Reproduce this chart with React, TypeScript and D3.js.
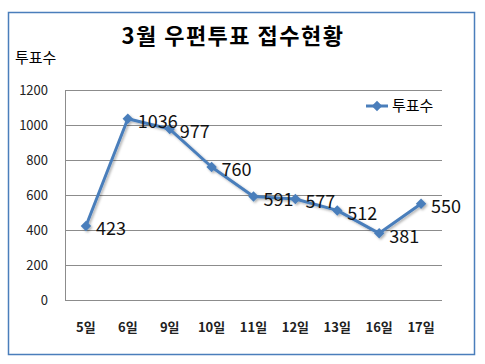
import React, { useEffect, useRef } from "react";
import * as d3 from "d3";

const days = ["5일", "6일", "9일", "10일", "11일", "12일", "13일", "16일", "17일"];
const votes = [423, 1036, 977, 760, 591, 577, 512, 381, 550];
const yTicks = [0, 200, 400, 600, 800, 1000, 1200];

const FONT = "'Noto Sans CJK KR', 'Noto Sans', sans-serif";
const BLUE = "#4A7EBB";

export default function App() {
  const ref = useRef<SVGSVGElement>(null);

  useEffect(() => {
    if (!ref.current) return;
    const svg = d3.select(ref.current);
    svg.selectAll("*").remove();

    const margin = { top: 90, right: 43, bottom: 64, left: 65 };
    const W = 485;
    const H = 364;
    const width = W - margin.left - margin.right;
    const height = H - margin.top - margin.bottom;

    // outer frame
    svg
      .append("rect")
      .attr("x", 8.5)
      .attr("y", 12.5)
      .attr("width", 466)
      .attr("height", 342)
      .attr("fill", "#fff")
      .attr("stroke", BLUE)
      .attr("stroke-width", 1.5);

    // title
    svg
      .append("text")
      .attr("x", 233)
      .attr("y", 44)
      .attr("text-anchor", "middle")
      .attr("font-family", FONT)
      .attr("font-weight", "bold")
      .attr("font-size", 22)
      .attr("letter-spacing", 1.5)
      .text("3월 우편투표 접수현황");

    // y axis title
    svg
      .append("text")
      .attr("x", 15)
      .attr("y", 63)
      .attr("font-family", FONT)
      .attr("font-size", 15)
      .text("투표수");

    const g = svg.append("g").attr("transform", `translate(${margin.left},${margin.top})`);

    const x = d3.scaleBand().domain(days).range([0, width]);
    const y = d3.scaleLinear().domain([0, 1200]).range([height, 0]);
    const cx = (d: string) => (x(d) as number) + x.bandwidth() / 2;

    // grid lines
    g.append("g")
      .selectAll("line")
      .data(yTicks)
      .enter()
      .append("line")
      .attr("x1", 0)
      .attr("x2", width)
      .attr("y1", (d) => Math.round(y(d)) + 0.5)
      .attr("y2", (d) => Math.round(y(d)) + 0.5)
      .attr("stroke", "#8c8c8c")
      .attr("stroke-width", 1);

    // left axis line
    g.append("line")
      .attr("x1", 0.5)
      .attr("x2", 0.5)
      .attr("y1", 0)
      .attr("y2", height)
      .attr("stroke", "#8c8c8c");

    // y tick labels
    g.append("g")
      .selectAll("text")
      .data(yTicks)
      .enter()
      .append("text")
      .attr("x", -17)
      .attr("y", (d) => y(d))
      .attr("dy", "0.35em")
      .attr("text-anchor", "end")
      .attr("font-family", FONT)
      .attr("font-size", 13)
      .attr("fill", "#222")
      .text((d) => d);

    // x labels
    g.append("g")
      .selectAll("text")
      .data(days)
      .enter()
      .append("text")
      .attr("x", (d) => cx(d))
      .attr("y", height + 27)
      .attr("dy", "0.35em")
      .attr("text-anchor", "middle")
      .attr("font-family", FONT)
      .attr("font-weight", "bold")
      .attr("font-size", 13)
      .attr("fill", "#222")
      .text((d) => d);

    const pts = days.map((d, i) => ({ day: d, v: votes[i] }));
    const line = d3
      .line<{ day: string; v: number }>()
      .x((d) => cx(d.day))
      .y((d) => y(d.v));

    // shadow
    const defs = svg.append("defs");
    const f = defs.append("filter").attr("id", "sh").attr("x", "-20%").attr("y", "-20%").attr("width", "140%").attr("height", "140%");
    f.append("feDropShadow")
      .attr("dx", 1.5)
      .attr("dy", 1.5)
      .attr("stdDeviation", 1.2)
      .attr("flood-color", "#000")
      .attr("flood-opacity", 0.3);

    const series = g.append("g").attr("filter", "url(#sh)");
    series
      .append("path")
      .datum(pts)
      .attr("fill", "none")
      .attr("stroke", BLUE)
      .attr("stroke-width", 3)
      .attr("stroke-linejoin", "round")
      .attr("d", line);

    const diamond = d3.symbol().type(d3.symbolDiamond2).size(70);
    series
      .selectAll("path.m")
      .data(pts)
      .enter()
      .append("path")
      .attr("class", "m")
      .attr("transform", (d) => `translate(${cx(d.day)},${y(d.v)})`)
      .attr("d", diamond)
      .attr("fill", BLUE);

    // data labels
    g.append("g")
      .selectAll("text")
      .data(pts)
      .enter()
      .append("text")
      .attr("x", (d) => cx(d.day) + 10)
      .attr("y", (d) => y(d.v) + 3)
      .attr("dy", "0.35em")
      .attr("font-family", FONT)
      .attr("font-size", 18)
      .attr("fill", "#111")
      .text((d) => d.v);

    // legend
    const lg = svg.append("g").attr("transform", "translate(366,106)");
    lg.append("line").attr("x1", 0).attr("x2", 22).attr("y1", 0).attr("y2", 0).attr("stroke", BLUE).attr("stroke-width", 3);
    lg.append("path").attr("transform", "translate(11,0)").attr("d", diamond).attr("fill", BLUE);
    lg.append("text")
      .attr("x", 26)
      .attr("y", 0)
      .attr("dy", "0.35em")
      .attr("font-family", FONT)
      .attr("font-size", 15)
      .text("투표수");
  }, []);

  return (
    <div style={{ position: "absolute", left: 0, top: 0 }}>
      <svg ref={ref} width={485} height={364} />
    </div>
  );
}
